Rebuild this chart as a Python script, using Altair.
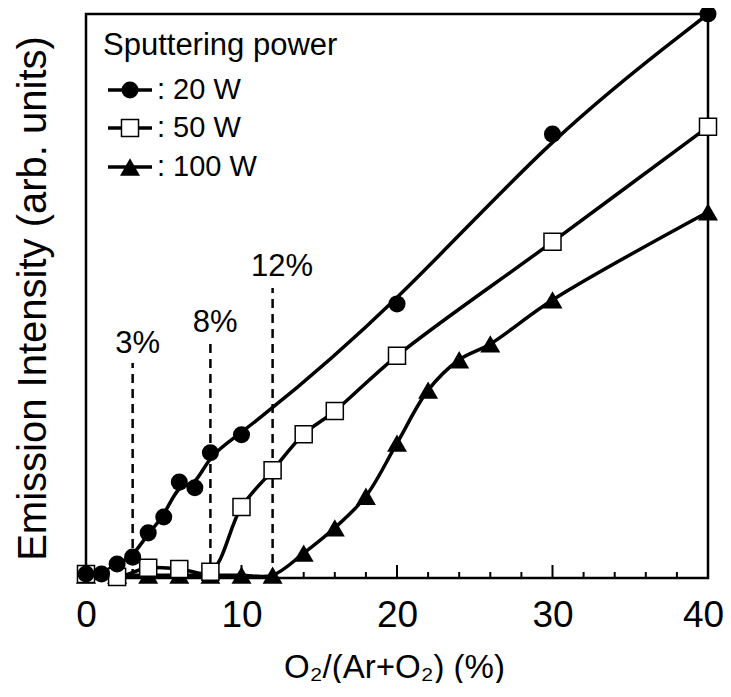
import altair as alt
import pandas as pd

# ---- data ----
x20 = [0, 1, 2, 3, 4, 5, 6, 7, 8, 10, 20, 30, 40]
y20 = [0.7, 0.7, 2.5, 3.7, 8.0, 10.8, 17.0, 16.0, 22.2, 25.4, 48.6, 78.7, 100]
x50 = [0, 2, 4, 6, 8, 10, 12, 14, 16, 20, 30, 40]
y50 = [0.7, 0.2, 1.8, 1.6, 1.1, 12.6, 19.1, 25.5, 29.6, 39.4, 59.6, 80.0]
x100 = [0, 2, 4, 6, 8, 10, 12, 14, 16, 18, 20, 22, 24, 26, 30, 40]
y100 = [0.5, 0.5, 0.5, 0.5, 0.5, 0.5, 0.5, 4.4, 8.9, 14.5, 23.9, 33.3, 38.7, 41.5, 49.3, 64.9]

series_names = ["20 W", "50 W", "100 W"]
legend_labels = [": 20 W", ": 50 W", ": 100 W"]
legend_title = "Sputtering power"

thr_x = [3, 8, 12]
thr_top = [38.1, 41.7, 51.4]
thr_text = ["3%", "8%", "12%"]
thr_label_x = [3.32, 8.3, 12.6]
thr_label_y = [39.9, 43.7, 53.5]

minor_ticks = [2, 4, 6, 8, 12, 14, 16, 18, 22, 24, 26, 28, 32, 34, 36, 38]
major_ticks = [10, 20, 30]
tick_values = [0, 10, 20, 30, 40]

FONT = "Liberation Sans"
W, H = 622, 564
TRI = 400

xs = alt.Scale(domain=[0, 40], nice=False, zero=False)
ys = alt.Scale(domain=[0, 100], nice=False, zero=False)

d20 = pd.DataFrame({"x": x20, "y": y20})
d50 = pd.DataFrame({"x": x50, "y": y50})
d100 = pd.DataFrame({"x": x100, "y": y100})

xenc = alt.X("x:Q", scale=xs,
             axis=alt.Axis(title="O₂/(Ar+O₂) (%)", values=tick_values, ticks=False,
                           domain=False, grid=False, labelFontSize=37, labelFont=FONT,
                           labelColor="black", labelPadding=19, labelFlush=False,
                           labelOffset={"condition": {"test": "datum.value == 40", "value": -5}, "value": 0},
                           titleFont=FONT, titleFontSize=33, titleFontWeight="normal",
                           titleColor="black", titleBaseline="alphabetic",
                           titleX=308, titleY=99))
yenc = alt.Y("y:Q", scale=ys,
             axis=alt.Axis(title="Emission Intensity (arb. units)", labels=False, ticks=False,
                           domain=False, grid=False, titleFont=FONT, titleFontSize=40,
                           titleFontWeight="normal", titleColor="black", titleAngle=270,
                           titleBaseline="middle", titleAlign="center",
                           titleX=-53, titleY=284))

SW = 3.5
line20 = alt.Chart(d20).mark_line(color="black", strokeWidth=SW, interpolate="basis").encode(x=xenc, y=yenc)
line50 = alt.Chart(d50).mark_line(color="black", strokeWidth=SW, interpolate="catmull-rom").encode(x="x:Q", y="y:Q")
line100 = alt.Chart(d100).mark_line(color="black", strokeWidth=SW, interpolate="catmull-rom").encode(x="x:Q", y="y:Q")

pt100 = alt.Chart(d100).mark_point(shape="triangle-up", filled=True, color="black", size=TRI, opacity=1).encode(x="x:Q", y="y:Q")
pt50 = alt.Chart(d50).mark_point(shape="square", filled=True, fill="white", stroke="black", strokeWidth=1.5, size=290, opacity=1).encode(x="x:Q", y="y:Q")
pt20 = alt.Chart(d20).mark_point(shape="circle", filled=True, color="black", size=290, opacity=1).encode(x="x:Q", y="y:Q")

thr = pd.DataFrame({"x": thr_x, "top": thr_top, "text": thr_text, "lx": thr_label_x, "ly": thr_label_y, "zero": [0, 0, 0]})
dash = alt.Chart(thr).mark_rule(color="black", strokeWidth=2.5, strokeDash=[9, 6]).encode(x="x:Q", y="zero:Q", y2="top:Q")
dash_text = alt.Chart(thr).mark_text(font=FONT, fontSize=31, color="black", align="center", baseline="alphabetic").encode(
    x="lx:Q", y="ly:Q", text="text:N")

tk_minor = alt.Chart(pd.DataFrame({"x": minor_ticks})).mark_rule(color="black", strokeWidth=2).encode(
    x="x:Q", y=alt.value(H), y2=alt.value(H - 6))
tk_major = alt.Chart(pd.DataFrame({"x": major_ticks})).mark_rule(color="black", strokeWidth=2).encode(
    x="x:Q", y=alt.value(H), y2=alt.value(H - 13))

# legend (drawn manually, positions in pixels of the plot area)
one = pd.DataFrame({"a": [0]})
leg = [alt.Chart(one).mark_text(text=legend_title, font=FONT, fontSize=31, color="black",
                                align="left", baseline="alphabetic").encode(x=alt.value(17), y=alt.value(41))]
rows_y = [76, 114, 153]
shapes = [("circle", "black"), ("square", "white"), ("triangle-up", "black")]
for i, (lab, yy, (shp, fill)) in enumerate(zip(legend_labels, rows_y, shapes)):
    leg.append(alt.Chart(one).mark_rule(color="black", strokeWidth=SW).encode(
        x=alt.value(22), x2=alt.value(66), y=alt.value(yy)))
    if shp == "square":
        leg.append(alt.Chart(one).mark_point(shape=shp, filled=True, fill="white", stroke="black",
                                             strokeWidth=1.5, size=290, opacity=1).encode(x=alt.value(44), y=alt.value(yy)))
    else:
        leg.append(alt.Chart(one).mark_point(shape=shp, filled=True, color="black", size=290 if shp == "circle" else TRI,
                                             opacity=1).encode(x=alt.value(44), y=alt.value(yy)))
    leg.append(alt.Chart(one).mark_text(text=lab, font=FONT, fontSize=29, color="black",
                                        align="left", baseline="alphabetic").encode(x=alt.value(71), y=alt.value(yy + 9)))

chart = alt.layer(
    line20, line50, line100, tk_minor, tk_major, dash, dash_text, pt100, pt50, pt20, *leg
).properties(
    width=W, height=H,
    background="white",
    autosize=alt.AutoSizeParams(type="none"),
    padding={"left": 78, "top": 6, "right": 15, "bottom": 105},
).configure_view(stroke="black", strokeWidth=2.5)

chart.save("out.html", embed_options={"renderer": "svg", "actions": False})
